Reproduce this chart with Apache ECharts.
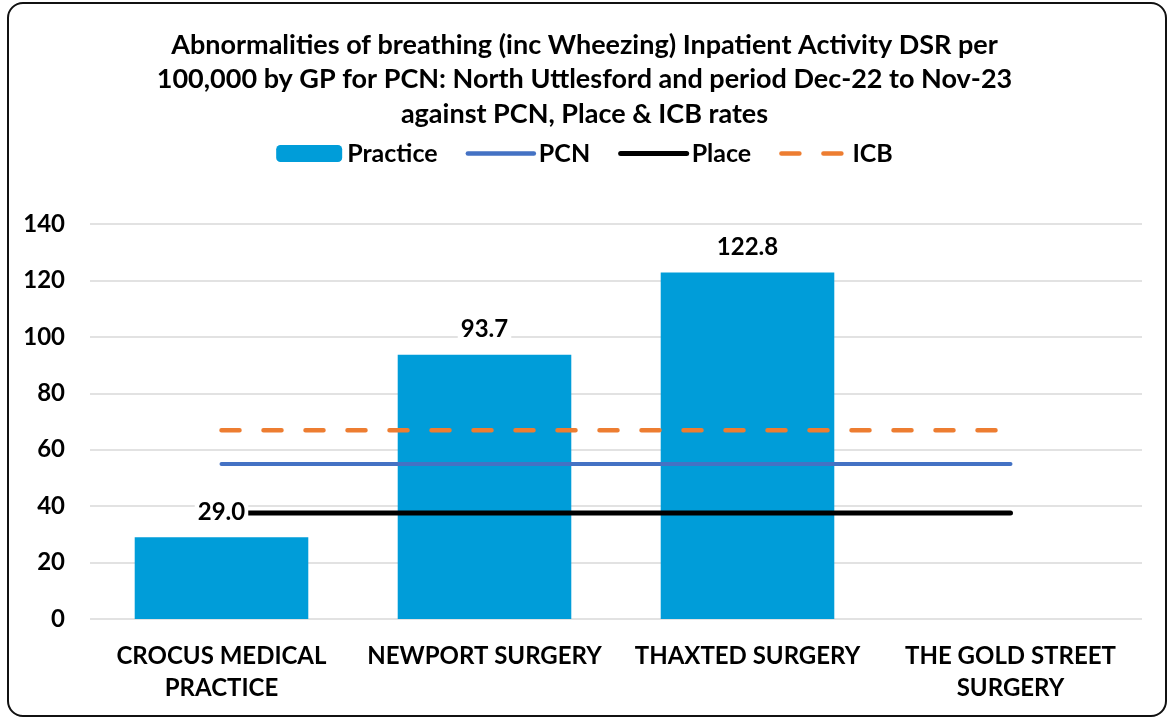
<!DOCTYPE html>
<html lang="en">

<head>
  <meta charset="UTF-8">
  <title>Abnormalities of breathing DSR</title>
  <script src="https://cdn.jsdelivr.net/npm/echarts@6/dist/echarts.min.js"></script>
  <style>
    body {
      margin: 0;
      background: #fff;
    }

    #frame {
      position: absolute;
      left: 7px;
      top: 2px;
      width: 1156px;
      height: 711px;
      border: 2px solid #111;
      border-radius: 16px;
    }

    #myChart {
      position: absolute;
      left: 0;
      top: 0;
      width: 1169px;
      height: 719px;
    }
  </style>
</head>

<body>
  <div id="frame"></div>
  <div id="myChart"></div>

  <script>
    // data
    var practices = ['CROCUS MEDICAL\nPRACTICE', 'NEWPORT SURGERY', 'THAXTED SURGERY', 'THE GOLD STREET\nSURGERY'];
    var practiceRate = [29.0, 93.7, 122.8, null];
    var pcnRate = [54.9, 54.9, 54.9, 54.9];
    var placeRate = [37.6, 37.6, 37.6, 37.6];
    var icbRate = [66.9, 66.9, 66.9, 66.9];
    var yTicks = [0, 20, 40, 60, 80, 100, 120, 140];

    var font = 'Lato, "Open Sans", sans-serif';

    var myChart = echarts.init(document.getElementById('myChart'));
    var option = {
      animation: false,
      textStyle: { fontFamily: font },
      title: {
        text: 'Abnormalities of breathing (inc Wheezing) Inpatient Activity DSR per\n100,000 by GP for PCN: North Uttlesford and period Dec-22 to Nov-23\nagainst PCN, Place & ICB rates',
        left: 'center',
        top: 23,
        textStyle: {
          fontFamily: font,
          fontSize: 27,
          fontWeight: 'bold',
          lineHeight: 34.5,
          color: '#000'
        }
      },
      legend: {
        top: 136,
        left: 'center',
        itemWidth: 66,
        itemHeight: 17,
        itemGap: 28,
        textStyle: { fontFamily: font, fontSize: 25, fontWeight: 'bold', color: '#000' },
        data: [
          { name: 'Practice' },
          { name: 'PCN', itemStyle: { opacity: 0 }, lineStyle: { width: 4.5 } },
          { name: 'Place', itemStyle: { opacity: 0 }, lineStyle: { width: 5 } },
          { name: 'ICB', itemStyle: { opacity: 0 }, lineStyle: { width: 4.5 } }
        ]
      },
      grid: {
        left: 90,
        right: 27,
        top: 224,
        bottom: 100
      },
      xAxis: {
        type: 'category',
        data: practices,
        axisLine: { show: false },
        axisTick: { show: false },
        axisLabel: {
          margin: 21,
          interval: 0,
          fontFamily: font,
          fontSize: 24,
          fontWeight: 'bold',
          lineHeight: 32,
          color: '#000'
        }
      },
      yAxis: {
        type: 'value',
        min: yTicks[0],
        max: yTicks[yTicks.length - 1],
        interval: 20,
        axisLine: { show: false },
        axisTick: { show: false },
        axisLabel: {
          margin: 25,
          fontFamily: font,
          fontSize: 24,
          fontWeight: 'bold',
          color: '#000'
        },
        splitLine: { lineStyle: { color: '#d9d9d9', width: 1.5 } }
      },
      series: [{
        name: 'Practice',
        type: 'bar',
        data: practiceRate,
        barWidth: '66%',
        itemStyle: { color: '#009dd9' }
      }, {
        name: 'PCN',
        type: 'line',
        data: pcnRate,
        symbol: 'none',
        lineStyle: { color: '#4472c4', width: 4, cap: 'round' },
        itemStyle: { color: '#4472c4' },
        z: 3
      }, {
        name: 'Place',
        type: 'line',
        data: placeRate,
        symbol: 'none',
        lineStyle: { color: '#000', width: 5, cap: 'round' },
        itemStyle: { color: '#000' },
        z: 3
      }, {
        name: 'ICB',
        type: 'line',
        data: icbRate,
        symbol: 'none',
        lineStyle: { color: '#ed7d31', width: 4.5, type: [18, 24], cap: 'round' },
        itemStyle: { color: '#ed7d31' },
        z: 3
      }, {
        // transparent copy of the bars so the value labels sit above the lines
        name: 'PracticeLabels',
        type: 'bar',
        data: practiceRate,
        barWidth: '66%',
        barGap: '-100%',
        silent: true,
        itemStyle: { color: 'rgba(0,0,0,0)' },
        z: 10,
        label: {
          show: true,
          position: 'top',
          distance: 12,
          formatter: function (p) { return p.value.toFixed(1); },
          fontFamily: font,
          fontSize: 24,
          fontWeight: 'bold',
          color: '#000',
          backgroundColor: '#fff',
          padding: [1, 3]
        }
      }]
    };
    myChart.setOption(option);
  </script>
</body>

</html>
